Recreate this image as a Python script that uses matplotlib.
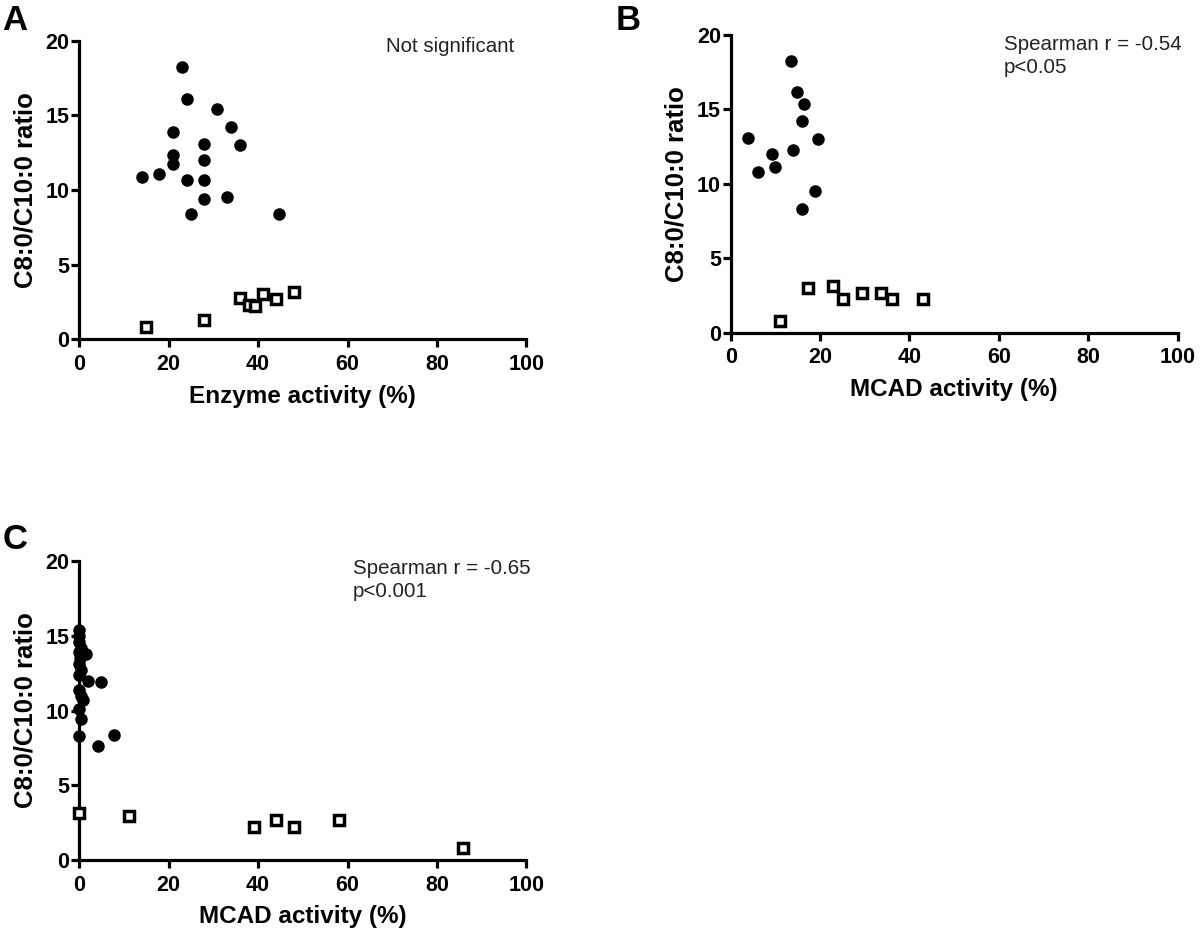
import matplotlib
matplotlib.use("Agg")
import matplotlib.pyplot as plt

plt.rcParams['font.family'] = ['Liberation Sans', 'DejaVu Sans']

# ---- data ----
# Panel A: enzyme activity (%)
a_filled_x = [23.0, 24.0, 30.8, 21.0, 34.0, 27.9, 36.0, 21.0, 21.0, 27.9, 14.0, 17.9, 24.0, 27.9, 27.9, 33.0, 25.0, 44.7]
a_filled_y = [18.27, 16.1, 15.4, 13.9, 14.2, 13.1, 13.0, 12.35, 11.75, 12.0, 10.84, 11.1, 10.68, 10.68, 9.4, 9.54, 8.36, 8.36]
a_open_x = [15.0, 28.0, 36.0, 38.0, 39.3, 41.0, 44.1, 48.0]
a_open_y = [0.82, 1.29, 2.78, 2.29, 2.23, 3.03, 2.67, 3.18]

# Panel B: MCAD activity (%)
b_filled_x = [13.4, 14.9, 16.5, 16.0, 3.8, 19.6, 13.96, 9.25, 10.0, 6.2, 18.9, 16.0]
b_filled_y = [18.28, 16.15, 15.36, 14.2, 13.1, 13.03, 12.3, 12.0, 11.13, 10.8, 9.5, 8.3]
b_open_x = [11.0, 17.2, 23.0, 25.2, 29.3, 33.7, 36.0, 43.0]
b_open_y = [0.8, 2.98, 3.16, 2.24, 2.69, 2.69, 2.24, 2.24]

# Panel C: MCAD activity (%)
c_filled_x = [0.0, 0.0, 0.0, 0.3, 0.0, 0.2, 0.0, 0.4, 0.0, 1.6, 1.9, 4.9, 0.0, 0.8, 0.3, 0.0, 0.4, 0.0, 4.1, 7.8]
c_filled_y = [15.4, 15.0, 14.6, 14.2, 13.9, 13.5, 13.1, 12.7, 12.4, 13.8, 12.0, 11.9, 11.4, 10.7, 11.0, 10.1, 9.4, 8.3, 7.6, 8.36]
c_open_x = [0.0, 11.1, 39.0, 43.9, 48.0, 58.0, 85.9]
c_open_y = [3.17, 2.95, 2.23, 2.68, 2.23, 2.68, 0.78]

x_ticks = [0, 20, 40, 60, 80, 100]
y_ticks = [0, 5, 10, 15, 20]
y_label = "C8:0/C10:0 ratio"

fig = plt.figure(figsize=(12, 9.36), dpi=100)

panels = [
    dict(rect=[0.0661, 0.6375, 0.3725, 0.319], fx=a_filled_x, fy=a_filled_y, ox=a_open_x, oy=a_open_y,
         xlabel="Enzyme activity (%)", letter="A", letter_xy=(0.002, 0.996),
         note="Not significant", note_xy=(386 / 1200, 1 - 37 / 936)),
    dict(rect=[0.6089, 0.6446, 0.3725, 0.318], fx=b_filled_x, fy=b_filled_y, ox=b_open_x, oy=b_open_y,
         xlabel="MCAD activity (%)", letter="B", letter_xy=(0.513, 0.996),
         note="Spearman r = -0.54\np<0.05", note_xy=(1004 / 1200, 1 - 35 / 936)),
    dict(rect=[0.0661, 0.0812, 0.3725, 0.3194], fx=c_filled_x, fy=c_filled_y, ox=c_open_x, oy=c_open_y,
         xlabel="MCAD activity (%)", letter="C", letter_xy=(0.002, 0.441),
         note="Spearman r = -0.65\np<0.001", note_xy=(353 / 1200, 1 - 559 / 936)),
]

for p in panels:
    ax = fig.add_axes(p["rect"])
    ax.set_xlim(0, 100)
    ax.set_ylim(0, 20)
    for s in ["top", "right"]:
        ax.spines[s].set_visible(False)
    for s in ["left", "bottom"]:
        ax.spines[s].set_linewidth(2.3)
    ax.set_xticks(x_ticks)
    ax.set_yticks(y_ticks)
    ax.tick_params(direction="out", length=5.5, width=2.3, labelsize=15.5)
    ax.tick_params(axis="x", pad=5)
    ax.tick_params(axis="y", pad=1.5)
    for lab in ax.get_xticklabels() + ax.get_yticklabels():
        lab.set_fontweight("bold")
    ax.plot(p["fx"], p["fy"], linestyle="none", marker="o", ms=8.0, mfc="black", mec="black",
            clip_on=False, zorder=3)
    ax.plot(p["ox"], p["oy"], linestyle="none", marker="s", ms=7.6, mfc="white", mec="black",
            mew=2.5, clip_on=False, zorder=4)
    ax.set_xlabel(p["xlabel"], fontsize=17.5, fontweight="bold", labelpad=7)
    ax.set_ylabel(y_label, fontsize=18.5, fontweight="bold", labelpad=6)
    fig.text(p["letter_xy"][0], p["letter_xy"][1], p["letter"], fontsize=25, fontweight="bold",
             ha="left", va="top")
    fig.text(p["note_xy"][0], p["note_xy"][1], p["note"], fontsize=14.8, color="#222222",
             ha="left", va="top", linespacing=1.25)

fig.savefig("out.png", dpi=100)
